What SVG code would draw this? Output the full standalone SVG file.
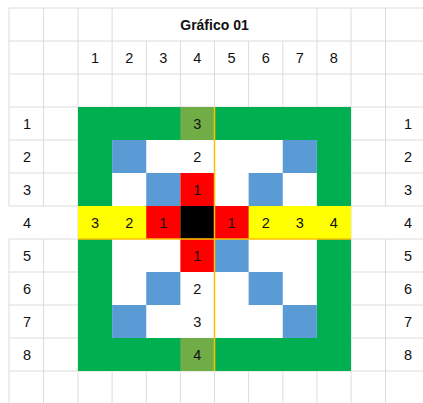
<svg xmlns="http://www.w3.org/2000/svg" width="423" height="403" viewBox="0 0 423 403">
<style>
.grid{stroke:#dcdcdc;stroke-width:1;fill:none}
.g{fill:#00b050}.o{fill:#70ad47}.b{fill:#5b9bd5}.r{fill:#ff0000}.y{fill:#ffff00}.k{fill:#000}.w{fill:#fff}
text{font-family:"Liberation Sans",Arial,sans-serif;font-size:14.5px;fill:#111;text-anchor:middle}
.t{font-weight:bold;font-size:14px}
.ol{stroke:#ffc000;stroke-width:1.5;fill:none}
</style>
<rect width="423" height="403" fill="#fff"/>
<g id="gridlines" class="grid">
<path d="M9 8H423M9 41H423M9 74H423M9 107H423M9 140H423M9 173H423M9 206H423M9 239H423M9 272H423M9 305H423M9 338H423M9 371H423"/>
<path d="M9 8V206M9 239V403M43.5 8V206M43.5 239V403M78 8V403M112.1 8V403M317 8V403M351 8V403M385.5 8V206M385.5 239V403"/>
<path d="M146.3 41V403M180.4 41V403M214.5 41V403M248.6 41V403M282.8 41V403"/>
</g>
<g id="title"><text class="t" x="214.5" y="29.5">Gráfico 01</text></g>
<g id="col-headers">
<text x="95.1" y="62.5">1</text><text x="129.2" y="62.5">2</text><text x="163.3" y="62.5">3</text><text x="197.4" y="62.5">4</text><text x="231.6" y="62.5">5</text><text x="265.7" y="62.5">6</text><text x="299.8" y="62.5">7</text><text x="333.9" y="62.5">8</text>
</g>
<g id="row-labels-left">
<text x="27" y="128.5">1</text><text x="27" y="161.5">2</text><text x="27" y="194.5">3</text><text x="27" y="227.5">4</text><text x="27" y="260.5">5</text><text x="27" y="293.5">6</text><text x="27" y="326.5">7</text><text x="27" y="359.5">8</text>
</g>
<g id="row-labels-right">
<text x="408" y="128.5">1</text><text x="408" y="161.5">2</text><text x="408" y="194.5">3</text><text x="408" y="227.5">4</text><text x="408" y="260.5">5</text><text x="408" y="293.5">6</text><text x="408" y="326.5">7</text><text x="408" y="359.5">8</text>
</g>
<g id="frame">
<rect class="g" x="78" y="107" width="273" height="264"/>
<rect class="w" x="112.125" y="140" width="204.75" height="198"/>
<rect class="o" x="180.375" y="107" width="34.125" height="33"/>
<rect class="o" x="180.375" y="338" width="34.125" height="33"/>
</g>
<g id="blue-cells">
<rect class="b" x="112.125" y="140" width="34.125" height="33"/>
<rect class="b" x="282.75" y="140" width="34.125" height="33"/>
<rect class="b" x="146.25" y="173" width="34.125" height="33"/>
<rect class="b" x="248.625" y="173" width="34.125" height="33"/>
<rect class="b" x="214.5" y="239" width="34.125" height="33"/>
<rect class="b" x="146.25" y="272" width="34.125" height="33"/>
<rect class="b" x="248.625" y="272" width="34.125" height="33"/>
<rect class="b" x="112.125" y="305" width="34.125" height="33"/>
<rect class="b" x="282.75" y="305" width="34.125" height="33"/>
</g>
<g id="row4">
<rect class="y" x="78" y="206" width="273" height="33"/>
<rect class="r" x="146.25" y="206" width="34.125" height="33"/>
<rect class="r" x="214.5" y="206" width="34.125" height="33"/>
<rect class="k" x="180.375" y="206" width="34.125" height="33"/>
</g>
<g id="col4">
<rect class="r" x="180.375" y="173" width="34.125" height="33"/>
<rect class="r" x="180.375" y="239" width="34.125" height="33"/>
</g>
<g id="axis-lines">
<path class="ol" d="M214.5 107V371M78 239H351"/>
</g>
<g id="cell-values">
<text x="197.4" y="128.5">3</text>
<text x="197.4" y="161.5">2</text>
<text x="197.4" y="194.5">1</text>
<text x="95.1" y="227.5">3</text><text x="129.2" y="227.5">2</text><text x="163.3" y="227.5">1</text>
<text x="231.6" y="227.5">1</text><text x="265.7" y="227.5">2</text><text x="299.8" y="227.5">3</text><text x="333.9" y="227.5">4</text>
<text x="197.4" y="260.5">1</text>
<text x="197.4" y="293.5">2</text>
<text x="197.4" y="326.5">3</text>
<text x="197.4" y="359.5">4</text>
</g>
</svg>
